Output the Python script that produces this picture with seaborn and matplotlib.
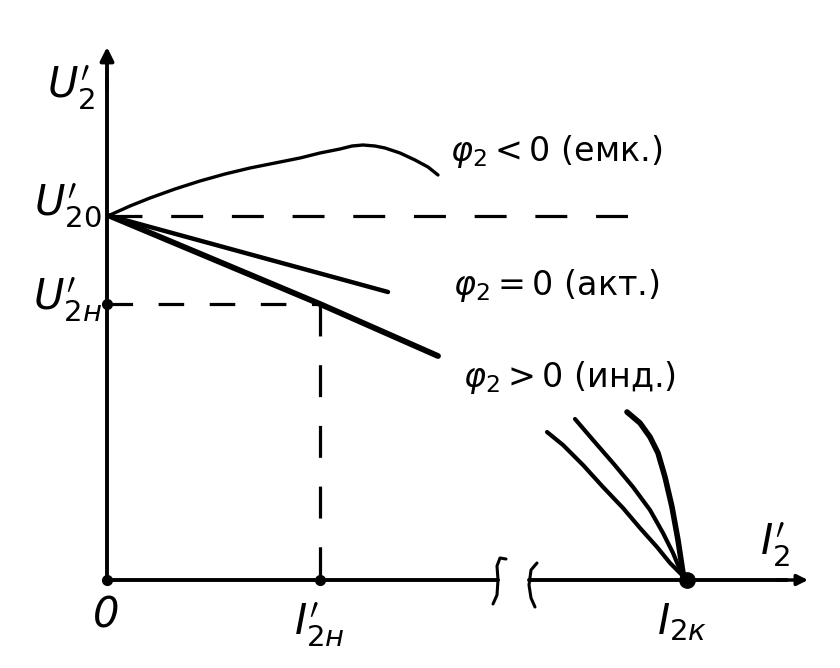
import matplotlib
matplotlib.use("Agg")
import matplotlib.pyplot as plt
import seaborn as sns

# external characteristic of a transformer U2' = f(I2')
# units are arbitrary, origin at (0, 0)
U20 = 364          # no-load voltage
I2H = 213          # rated current
U2H = 276          # rated voltage (inductive load)
I2K = 580          # short-circuit current

cap_I = [3, 23, 43, 68, 93, 118, 143, 168, 193, 213, 233, 245, 256, 268, 278, 293, 308, 321, 331]
cap_U = [365, 374, 382, 391, 399, 406, 412, 417, 422, 427, 431, 434, 435, 434, 432, 427, 420, 413, 405]

act_I = [3, 281]
act_U = [364, 288]

ind_I = [3, 213, 331]
ind_U = [364, 276, 224]

# three branches near short circuit
sc1_I = [440, 456, 476, 496, 516, 533, 550, 563, 576, 580]
sc1_U = [148, 135, 115, 93, 72, 52, 33, 17, 4, 0]
sc2_I = [468, 486, 506, 526, 543, 556, 566, 576, 580]
sc2_U = [161, 140, 117, 93, 70, 47, 27, 3, 0]
sc3_I = [520, 533, 543, 551, 558, 565, 571, 576, 580]
sc3_U = [168, 157, 143, 127, 103, 73, 40, 7, 0]

# axis break marks on the current axis
brk1_I = [399, 393, 390, 391, 390, 386]
brk1_U = [21, 22, 14, 0, -15, -24]
brk2_I = [430, 424, 422, 424, 428]
brk2_U = [17, 10, -5, -18, -27]

labels_phi = [r"$\varphi_2 < 0$ (емк.)", r"$\varphi_2 = 0$ (акт.)", r"$\varphi_2 > 0$ (инд.)"]

sns.set_style("white")
plt.rcParams["font.family"] = ["DejaVu Sans"]
plt.rcParams["mathtext.fontset"] = "dejavusans"
plt.rcParams["text.color"] = "black"

fig = plt.figure(figsize=(8.4, 6.68), dpi=100)
ax = fig.add_axes([0, 0, 1, 1])
ax.set_xlim(-107, 733)
ax.set_ylim(-88, 580)
ax.axis("off")

k = "black"
rnd = dict(solid_capstyle="round", solid_joinstyle="round")

# axes
ax.plot([0, 0], [0, 500], color=k, lw=2.8)
ax.annotate("", xy=(0, 533), xytext=(0, 490),
            arrowprops=dict(arrowstyle="-|>", color=k, lw=2.8, mutation_scale=20,
                            shrinkA=0, shrinkB=0))
ax.plot([0, brk1_I[3]], [0, 0], color=k, lw=2.8)
ax.plot([brk2_I[2], 680], [0, 0], color=k, lw=2.8)
ax.annotate("", xy=(701, 0), xytext=(670, 0),
            arrowprops=dict(arrowstyle="-|>", color=k, lw=2.5, mutation_scale=16,
                            shrinkA=0, shrinkB=0))
sns.lineplot(x=brk1_I, y=brk1_U, sort=False, estimator=None, color=k, lw=2.2, ax=ax, **rnd)
sns.lineplot(x=brk2_I, y=brk2_U, sort=False, estimator=None, color=k, lw=2.2, ax=ax, **rnd)

# dashed helpers
ax.plot([3, 548], [U20, U20], color=k, lw=2.3, linestyle=(0, (10, 9)))
ax.plot([0, I2H], [U2H, U2H], color=k, lw=2.3, linestyle=(0, (8, 8)))
ax.plot([I2H, I2H], [U2H, 0], color=k, lw=2.3, linestyle=(0, (10, 9)))

# characteristics
sns.lineplot(x=cap_I, y=cap_U, sort=False, estimator=None, color=k, lw=2.4, ax=ax, **rnd)
sns.lineplot(x=act_I, y=act_U, sort=False, estimator=None, color=k, lw=3.2, ax=ax, **rnd)
sns.lineplot(x=ind_I, y=ind_U, sort=False, estimator=None, color=k, lw=4.2, ax=ax, **rnd)
sns.lineplot(x=sc1_I, y=sc1_U, sort=False, estimator=None, color=k, lw=3.0, ax=ax, **rnd)
sns.lineplot(x=sc2_I, y=sc2_U, sort=False, estimator=None, color=k, lw=3.0, ax=ax, **rnd)
sns.lineplot(x=sc3_I, y=sc3_U, sort=False, estimator=None, color=k, lw=4.0, ax=ax, **rnd)

# points
ax.plot([0, I2H, 0], [0, 0, U2H], "o", color=k, ms=7)
ax.plot([I2K], [0], "o", color=k, ms=11)

# labels
ts = 30
ax.text(-36, 492, r"$U_{2}^{\prime}$", fontsize=ts, ha="center", va="center")
ax.text(-39, 375, r"$U_{20}^{\prime}$", fontsize=ts, ha="center", va="center")
ax.text(-40, 280, r"$U_{2н}^{\prime}$", fontsize=ts, ha="center", va="center")
ax.text(-1, -35, "0", fontsize=ts, style="italic", ha="center", va="center")
ax.text(212, -45, r"$I_{2н}^{\prime}$", fontsize=ts, ha="center", va="center")
ax.text(575, -42, r"$I_{2к}$", fontsize=ts, ha="center", va="center")
ax.text(668, 35, r"$I_{2}^{\prime}$", fontsize=ts, ha="center", va="center")

ax.text(343, 428, labels_phi[0], fontsize=24, ha="left", va="center")
ax.text(346, 295, labels_phi[1], fontsize=24, ha="left", va="center")
ax.text(356, 202, labels_phi[2], fontsize=24, ha="left", va="center")

fig.savefig("out.png", dpi=100)
